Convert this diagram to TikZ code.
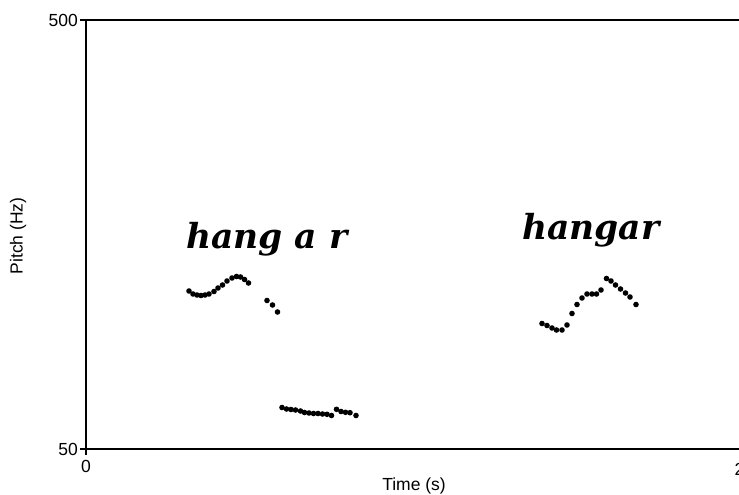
\documentclass[tikz,border=0pt]{standalone}
\usepackage{fontspec}
\setmainfont{Liberation Sans}
\newfontfamily\wordfont{DejaVu Serif}
\usetikzlibrary{positioning}

\begin{document}
\begin{tikzpicture}[x=1pt,y=-1pt]
      \tikzstyle{every node}=[inner sep=0pt, font=\fontsize{17.5}{20}\selectfont]
      \tikzstyle{axisline}=[line width=1.5pt]
      \tikzstyle{word}=[anchor=base west, font={\wordfont\bfseries\itshape\fontsize{34.5}{34.5}\selectfont}]
      \useasboundingbox (0,0) rectangle (739,495);

      % frame and ticks
      \draw[axisline] (80,20) -- (739,20);
      \draw[axisline] (86,20) -- (86,455);
      \draw[axisline] (80,449) -- (739,449);

      \node[anchor=east] (ymax) at (78,20) {500};
      \node[anchor=east] (ymin) at (78,449) {50};
      \node (xmin) at (86,466) {0};
      \node (xmax) at (739.5,469) {2};
      \node (xlab) at (414,486) {Time (s)};
      \node[rotate=90] (ylab) at (18,236) {Pitch (Hz)};

      % words
      \node[word] (hangar1) at (186,248) {hang a r};
      \node[word] (hangar2) at (522,239) {hangar};

      % pitch track
      \foreach \x/\y in {189/291, 193/294, 197/295, 201/295.5, 205/295, 209/294,
          214/291.5, 218/288, 222.5/285, 227/281, 232/278, 236.5/276.5, 240.5/277,
          244.5/279.5, 248.5/283, 267/300.5, 272.5/305, 277.5/312}
        \fill (\x,\y) circle (2.8pt);
      \foreach \x/\y in {282/407.5, 286.5/409, 291/409.5, 295.5/410, 300.5/411,
          304.5/412.5, 309/413, 313.5/413.5, 318/413.5, 322.5/414, 327/414.3,
          331.5/415.5, 336.5/409.3, 341/411.5, 345.5/412.3, 350/412.7, 356/415.5}
        \fill (\x,\y) circle (2.8pt);
      \foreach \x/\y in {542/323.5, 547/325.5, 552/328, 556.5/330, 562/330,
          567/325, 572/313.5, 577/304.5, 582/298, 587/294, 592/294, 596.5/294,
          601/290, 606.5/278.5, 611/281, 615.5/285, 620.5/289, 625.5/293,
          630/297, 636/304.5}
        \fill (\x,\y) circle (2.8pt);
\end{tikzpicture}
\end{document}
